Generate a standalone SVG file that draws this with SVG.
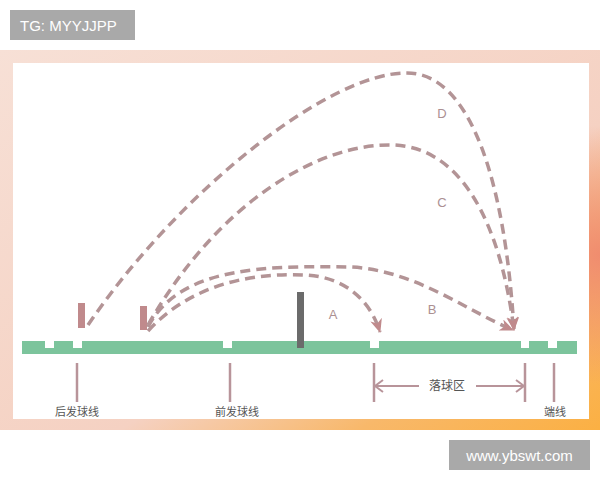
<svg xmlns="http://www.w3.org/2000/svg" width="600" height="480" viewBox="0 0 600 480">
  <defs>
    <linearGradient id="frame" x1="0" y1="0" x2="1" y2="1">
      <stop offset="0" stop-color="#f7e0d6"/>
      <stop offset="0.6" stop-color="#f5d1c2"/>
      <stop offset="0.8" stop-color="#f8b86a"/>
      <stop offset="1" stop-color="#fbb043"/>
    </linearGradient>
    <radialGradient id="salmon" cx="600" cy="255" r="130" gradientUnits="userSpaceOnUse">
      <stop offset="0" stop-color="#f08a6e" stop-opacity="0.95"/>
      <stop offset="1" stop-color="#f08a6e" stop-opacity="0"/>
    </radialGradient>
    <marker id="head" viewBox="0 0 14 12" refX="13" refY="6" markerWidth="14" markerHeight="12" markerUnits="userSpaceOnUse" orient="auto">
      <path d="M0,0 L14,6 L0,12 L4,6 Z" fill="#c08a8c"/>
    </marker>
    <marker id="chev-end" viewBox="0 0 10 14" refX="9" refY="7" markerWidth="10" markerHeight="14" markerUnits="userSpaceOnUse" orient="auto">
      <path d="M1,1 L9,7 L1,13" fill="none" stroke="#b8949a" stroke-width="2"/>
    </marker>
    <marker id="chev-start" viewBox="0 0 10 14" refX="1" refY="7" markerWidth="10" markerHeight="14" markerUnits="userSpaceOnUse" orient="auto">
      <path d="M9,1 L1,7 L9,13" fill="none" stroke="#b8949a" stroke-width="2"/>
    </marker>
  </defs>
  <style>
    .traj { fill: none; stroke: #b39496; stroke-width: 3.5; stroke-dasharray: 10 6; marker-end: url(#head); }
    .tick { stroke: #b8949a; stroke-width: 2.5; }
    .lbl { font-family: "Liberation Sans", Arial, sans-serif; font-size: 13px; fill: #ab9092; text-anchor: middle; }
    .cn { font-family: "Noto Sans CJK SC", "Noto Sans", sans-serif; font-size: 11px; fill: #555555; text-anchor: middle; }
    .post { fill: #c08a8c; }
    .notch { fill: #ffffff; }
    .wm { fill: #a9a9a9; }
    .wmt { font-family: "Liberation Sans", Arial, sans-serif; font-size: 15px; fill: #ffffff; }
  </style>

  <rect x="0" y="0" width="600" height="480" fill="#ffffff"/>
  <g id="frame-border">
    <rect x="0" y="50" width="600" height="380" fill="url(#frame)"/>
    <rect x="0" y="50" width="600" height="380" fill="url(#salmon)"/>
    <rect x="13" y="63" width="576" height="356" fill="#ffffff"/>
  </g>

  <g id="court">
    <rect x="22" y="341" width="555" height="13" fill="#7cc49c"/>
    <rect class="notch" x="45" y="341" width="9" height="7"/>
    <rect class="notch" x="73" y="341" width="9" height="7"/>
    <rect class="notch" x="223" y="341" width="9" height="7"/>
    <rect class="notch" x="370" y="341" width="9" height="7"/>
    <rect class="notch" x="521" y="341" width="8" height="7"/>
    <rect class="notch" x="548" y="341" width="9" height="7"/>
  </g>

  <g id="net">
    <rect x="297" y="292" width="7" height="56" fill="#6b6b6b"/>
  </g>

  <g id="player-back">
    <rect class="post" x="78" y="303" width="7" height="25"/>
  </g>
  <g id="player-front">
    <rect class="post" x="140" y="306" width="7" height="24"/>
  </g>

  <g id="connectors">
    <path id="traj-D" class="traj" d="M88,325 C180,190 330,72 407,73 C470,73 505,180 514,330"/>
    <path id="traj-C" class="traj" d="M148,325 C220,200 320,143 393,145 C460,147 500,220 514,330"/>
    <path id="traj-B" class="traj" d="M148,327 C180,265 270,266 350,267 C415,270 465,310 513,330"/>
    <path id="traj-A" class="traj" d="M148,331 C195,280 260,273 305,275 C345,277 370,300 380,332"/>
    <line class="tick" x1="375" y1="386" x2="419" y2="386" marker-start="url(#chev-start)" style="stroke-width:2"/>
    <line class="tick" x1="476" y1="386" x2="524" y2="386" marker-end="url(#chev-end)" style="stroke-width:2"/>
  </g>

  <g id="labels-traj">
    <text class="lbl" x="333" y="319">A</text>
    <text class="lbl" x="432" y="314">B</text>
    <text class="lbl" x="442" y="207">C</text>
    <text class="lbl" x="442" y="118">D</text>
  </g>

  <g id="marker-back-service">
    <line class="tick" x1="77" y1="363" x2="77" y2="402"/>
    <text class="cn" x="77" y="416">后发球线</text>
  </g>
  <g id="marker-front-service">
    <line class="tick" x1="230" y1="363" x2="230" y2="402"/>
    <text class="cn" x="237" y="416">前发球线</text>
  </g>
  <g id="marker-landing">
    <line class="tick" x1="374" y1="363" x2="374" y2="402"/>
    <line class="tick" x1="525" y1="363" x2="525" y2="402"/>
    <text class="cn" x="447" y="390" style="font-size:12px">落球区</text>
  </g>
  <g id="marker-end-line">
    <line class="tick" x1="554" y1="363" x2="554" y2="402"/>
    <text class="cn" x="555" y="416">端线</text>
  </g>

  <g id="watermark-top">
    <rect class="wm" x="10" y="10" width="125" height="30"/>
    <text class="wmt" x="20" y="31">TG: MYYJJPP</text>
  </g>
  <g id="watermark-bottom">
    <rect class="wm" x="449" y="440" width="141" height="30"/>
    <text class="wmt" x="519.5" y="461" text-anchor="middle">www.ybswt.com</text>
  </g>
</svg>
